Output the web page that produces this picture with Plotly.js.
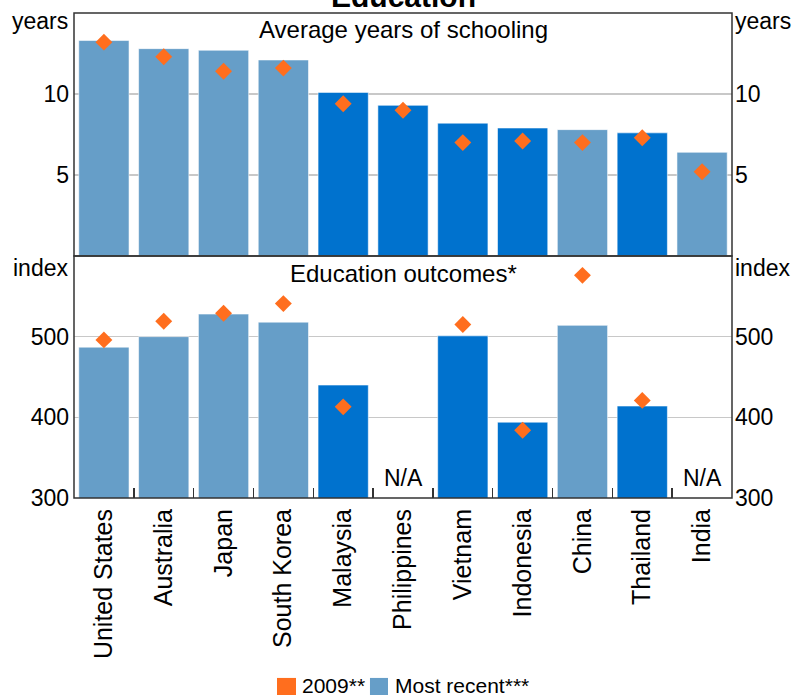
<!DOCTYPE html>
<html>
<head>
<meta charset="utf-8">
<script src="https://cdn.plot.ly/plotly-3.0.1.min.js"></script>
<style>html,body{margin:0;padding:0;background:#fff;}#chart{width:794px;height:695px;}</style>
</head>
<body>
<div id="chart"></div>
<script>
// ---- Data ----
const countries = ['United States','Australia','Japan','South Korea','Malaysia','Philippines','Vietnam','Indonesia','China','Thailand','India'];
const countryGroup = ['light','light','light','light','dark','dark','dark','dark','light','dark','light'];
const schoolingRecent = [13.3, 12.8, 12.7, 12.1, 10.1, 9.3, 8.2, 7.9, 7.8, 7.6, 6.4];
const schooling2009   = [13.2, 12.3, 11.4, 11.6, 9.4, 9.0, 7.0, 7.1, 7.0, 7.3, 5.2];
const outcomesRecent  = [487, 500, 528, 518, 440, null, 501, 394, 514, 414, null];
const outcomes2009    = [496, 519, 529, 541, 413, null, 515, 384, 576, 421, null];
const schoolingTicks = [5, 10];
const outcomesTicks = [300, 400, 500];
const legendLabels = ['2009**', 'Most recent***'];

// ---- Styles ----
const LIGHT = '#669ec8', DARK = '#0072ce', ORANGE = '#ff6e1e';
const FONT = 'Arial, "Liberation Sans", sans-serif';
const barColors = countryGroup.map(g => g === 'light' ? LIGHT : DARK);
const split = 0.499;
const xRange = [-0.5, countries.length - 0.5];

const barStyle = {color: barColors, line: {color: 'rgba(255,255,255,0.55)', width: 1}};
const diamond = {symbol: 'diamond', size: 13, color: ORANGE};
const hidden = {opacity: 0, size: 1};

const traces = [
  {type: 'bar', x: countries, y: schoolingRecent, xaxis: 'x2', yaxis: 'y3', marker: barStyle, showlegend: false},
  {type: 'scatter', mode: 'markers', x: countries, y: schooling2009, xaxis: 'x2', yaxis: 'y3', marker: diamond, showlegend: false},
  {type: 'bar', x: countries, y: outcomesRecent, xaxis: 'x', yaxis: 'y', marker: barStyle, showlegend: false},
  {type: 'scatter', mode: 'markers', x: countries, y: outcomes2009, xaxis: 'x', yaxis: 'y', marker: diamond, showlegend: false},
  // carriers for the right-hand axes
  {type: 'scatter', mode: 'markers', x: countries, y: schoolingRecent, xaxis: 'x2', yaxis: 'y4', marker: hidden, showlegend: false, hoverinfo: 'skip'},
  {type: 'scatter', mode: 'markers', x: countries, y: outcomesRecent, xaxis: 'x', yaxis: 'y2', marker: hidden, showlegend: false, hoverinfo: 'skip'}
];

const tickFont = {family: FONT, size: 23, color: '#000'};
const gridColor = '#c8c8c8';

const naAnnotations = countries
  .map((c, i) => ({c, v: outcomesRecent[i]}))
  .filter(d => d.v === null)
  .map(d => ({x: d.c, y: 300, xref: 'x', yref: 'y', text: 'N/A', showarrow: false,
    yanchor: 'bottom', yshift: 5, font: {family: FONT, size: 23, color: '#000'}}));

const txt = (text, x, y, xanchor, extra) => Object.assign({text, x, y, xref: 'paper', yref: 'paper',
  xanchor, yanchor: 'middle', showarrow: false, font: {family: FONT, size: 23, color: '#000'}}, extra || {});

const layout = {
  width: 794, height: 695,
  margin: {l: 74, r: 62, t: 13, b: 197},
  paper_bgcolor: '#fff', plot_bgcolor: '#fff',
  bargap: 0.16,
  showlegend: false,
  xaxis: {domain: [0, 1], anchor: 'y', type: 'category', range: xRange, tickangle: -90,
    ticks: 'inside', tickson: 'boundaries', ticklen: 10, tickwidth: 1.5, tickcolor: '#333',
    ticklabelstandoff: 5,
    tickfont: {family: FONT, size: 25, color: '#000'}, showgrid: false, zeroline: false, showline: false},
  xaxis2: {domain: [0, 1], anchor: 'y3', matches: 'x', type: 'category', range: xRange, showticklabels: false,
    ticks: '', showgrid: false, zeroline: false, showline: false},
  yaxis: {domain: [0, split], range: [300, 600], tickvals: outcomesTicks, showgrid: true, gridcolor: gridColor,
    gridwidth: 1.5, zeroline: false, ticks: '', tickfont: tickFont, ticklabelstandoff: 4, showline: false},
  yaxis2: {overlaying: 'y', side: 'right', range: [300, 600], tickvals: outcomesTicks, showgrid: false,
    zeroline: false, ticks: '', tickfont: tickFont, ticklabelstandoff: 2, showline: false},
  yaxis3: {domain: [split, 1], range: [0, 15], tickvals: schoolingTicks, showgrid: true, gridcolor: gridColor,
    gridwidth: 1.5, zeroline: false, ticks: '', tickfont: tickFont, ticklabelstandoff: 4, showline: false},
  yaxis4: {overlaying: 'y3', side: 'right', range: [0, 15], tickvals: schoolingTicks, showgrid: false,
    zeroline: false, ticks: '', tickfont: tickFont, ticklabelstandoff: 2, showline: false},
  shapes: [
    {type: 'rect', xref: 'paper', yref: 'paper', x0: 0, x1: 1, y0: split, y1: 1, line: {color: '#333', width: 1.5}},
    {type: 'rect', xref: 'paper', yref: 'paper', x0: 0, x1: 1, y0: 0, y1: split, line: {color: '#333', width: 1.5}},
    // legend swatches
    {type: 'rect', xref: 'paper', yref: 'paper', x0: 0.3085, x1: 0.3374, y0: -0.371, y1: -0.412, line: {width: 0}, fillcolor: ORANGE},
    {type: 'rect', xref: 'paper', yref: 'paper', x0: 0.4498, x1: 0.4772, y0: -0.371, y1: -0.412, line: {width: 0}, fillcolor: LIGHT}
  ],
  annotations: [
    txt('<b>Education</b>', 0.5, 1, 'center', {yanchor: 'bottom', yshift: -2, font: {family: FONT, size: 30, color: '#000'}}),
    txt('Average years of schooling', 0.5, 0.965, 'center', {font: {family: FONT, size: 24, color: '#000'}}),
    txt('Education outcomes*', 0.5, 0.462, 'center', {font: {family: FONT, size: 24, color: '#000'}}),
    txt('years', 0, 0.9835, 'right', {xshift: -4}),
    txt('years', 1, 0.9835, 'left', {xshift: 1}),
    txt('index', 0, 0.474, 'right', {xshift: -4}),
    txt('index', 1, 0.474, 'left', {xshift: 1}),
    txt(legendLabels[0], 0.3435, -0.3876, 'left', {font: {family: FONT, size: 21, color: '#000'}}),
    txt(legendLabels[1], 0.4848, -0.3876, 'left', {font: {family: FONT, size: 21, color: '#000'}})
  ].concat(naAnnotations)
};

Plotly.newPlot('chart', traces, layout, {staticPlot: true, displayModeBar: false});
</script>
</body>
</html>
